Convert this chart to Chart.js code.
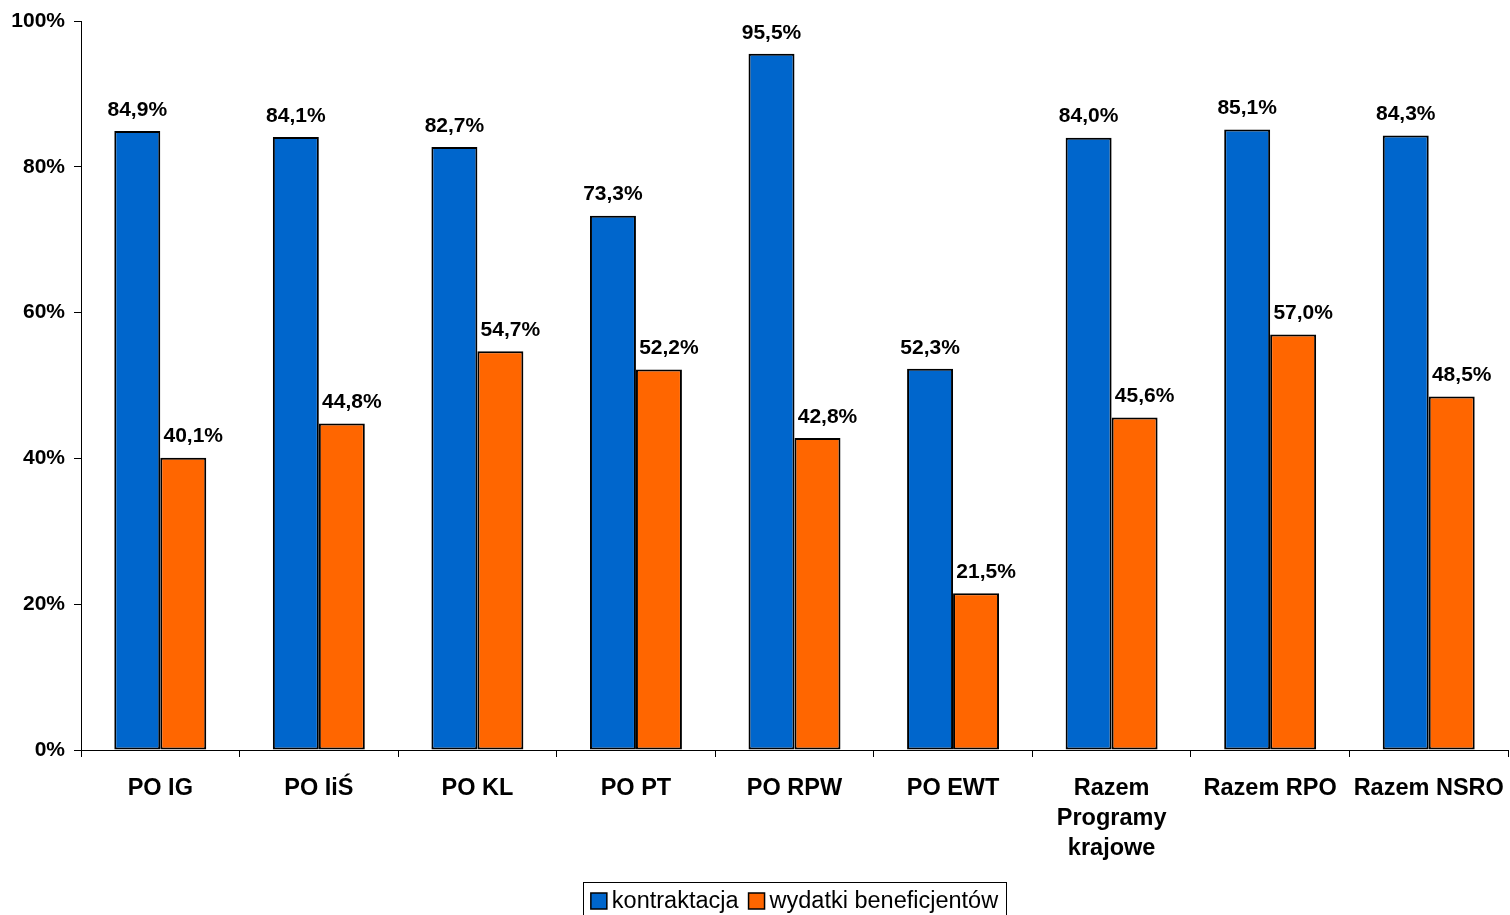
<!DOCTYPE html>
<html>
<head>
<meta charset="utf-8">
<script src="https://cdn.jsdelivr.net/npm/chart.js@4.4.0/dist/chart.umd.min.js"></script>
<style>
html,body{margin:0;padding:0;background:#fff;}
#wrap{width:1510px;height:915px;}
</style>
</head>
<body>
<div id="wrap"><canvas id="c" width="1510" height="915"></canvas></div>
<script>
const categories = ['PO IG', 'PO IiŚ', 'PO KL', 'PO PT', 'PO RPW', 'PO EWT', ['Razem', 'Programy', 'krajowe'], 'Razem RPO', 'Razem NSRO'];
const kontraktacja = [84.9, 84.1, 82.7, 73.3, 95.5, 52.3, 84.0, 85.1, 84.3];
const wydatki = [40.1, 44.8, 54.7, 52.2, 42.8, 21.5, 45.6, 57.0, 48.5];
const seriesNames = ['kontraktacja', 'wydatki beneficjentów'];
const yTicks = [0, 20, 40, 60, 80, 100];

const FONT = '"Liberation Sans", Arial, sans-serif';

const labelPlugin = {
  id: 'valueLabels',
  afterDatasetsDraw(chart) {
    const ctx = chart.ctx;
    ctx.save();
    ctx.font = 'bold 21px ' + FONT;
    ctx.fillStyle = '#000';
    ctx.textAlign = 'center';
    ctx.textBaseline = 'middle';
    chart.data.datasets.forEach((ds, di) => {
      const meta = chart.getDatasetMeta(di);
      meta.data.forEach((bar, i) => {
        const txt = ds.data[i].toFixed(1).replace('.', ',') + '%';
        ctx.fillText(txt, bar.x + (di === 1 ? 10 : 0), bar.y - 21);
      });
    });
    ctx.restore();
  }
};

const legendPlugin = {
  id: 'boxLegend',
  afterDraw(chart) {
    const ctx = chart.ctx;
    const ca = chart.chartArea;
    ctx.save();
    ctx.font = '23.5px ' + FONT;
    const sq = 16, gapSq = 5, gapItem = 10, pad = 8;
    const widths = seriesNames.map(n => ctx.measureText(n).width);
    const total = pad + sq + gapSq + widths[0] + gapItem + sq + gapSq + widths[1] + pad;
    const cx = (ca.left + ca.right) / 2;
    const left = cx - total / 2;
    const top = 882;
    ctx.strokeStyle = '#000';
    ctx.lineWidth = 1;
    ctx.strokeRect(Math.round(left) + 0.5, top + 0.5, Math.round(total), 60);
    let x = left + pad;
    const cy = 901;
    ctx.textBaseline = 'middle';
    ctx.textAlign = 'left';
    chart.data.datasets.forEach((ds, i) => {
      ctx.fillStyle = ds.backgroundColor;
      ctx.fillRect(x, cy - sq / 2, sq, sq);
      ctx.lineWidth = 1.5;
      ctx.strokeRect(x, cy - sq / 2, sq, sq);
      x += sq + gapSq;
      ctx.fillStyle = '#000';
      ctx.fillText(seriesNames[i], x, cy + 1);
      x += widths[i] + gapItem;
    });
    ctx.restore();
  }
};

new Chart(document.getElementById('c'), {
  type: 'bar',
  data: {
    labels: categories,
    datasets: [
      { label: seriesNames[0], data: kontraktacja, backgroundColor: '#0066CC', borderColor: '#000', borderWidth: 2, borderSkipped: false },
      { label: seriesNames[1], data: wydatki, backgroundColor: '#FF6600', borderColor: '#000', borderWidth: 2, borderSkipped: false }
    ]
  },
  options: {
    responsive: false,
    animation: false,
    devicePixelRatio: 1,
    layout: { padding: { left: 0, right: 2, top: 21, bottom: 0 } },
    plugins: { legend: { display: false }, tooltip: { enabled: false } },
    datasets: { bar: { categoryPercentage: 0.58, barPercentage: 1.0 } },
    scales: {
      x: {
        grid: { display: true, drawOnChartArea: false, drawTicks: true, tickLength: 7, color: '#000', offset: true },
        border: { display: true, color: '#000', width: 1 },
        ticks: { color: '#000', font: { family: FONT, size: 23.5, weight: 'bold', lineHeight: '30px' }, padding: 17, maxRotation: 0, autoSkip: false },
        afterFit(scale) { scale.height = 165; scale.paddingLeft = 0; scale.paddingRight = 0; scale.paddingTop = 0; scale.paddingBottom = 0; }
      },
      y: {
        min: 0, max: 100,
        afterBuildTicks(scale) { scale.ticks = yTicks.map(v => ({ value: v })); },
        grid: { display: true, drawOnChartArea: false, drawTicks: true, tickLength: 7, color: '#000' },
        border: { display: true, color: '#000', width: 1 },
        ticks: { color: '#000', font: { family: FONT, size: 21, weight: 'bold' }, padding: 9, callback: v => v + '%' },
        afterFit(scale) { scale.width = 81; scale.paddingTop = 0; scale.paddingBottom = 0; scale.paddingLeft = 0; scale.paddingRight = 0; }
      }
    }
  },
  plugins: [labelPlugin, legendPlugin]
});
</script>
</body>
</html>
